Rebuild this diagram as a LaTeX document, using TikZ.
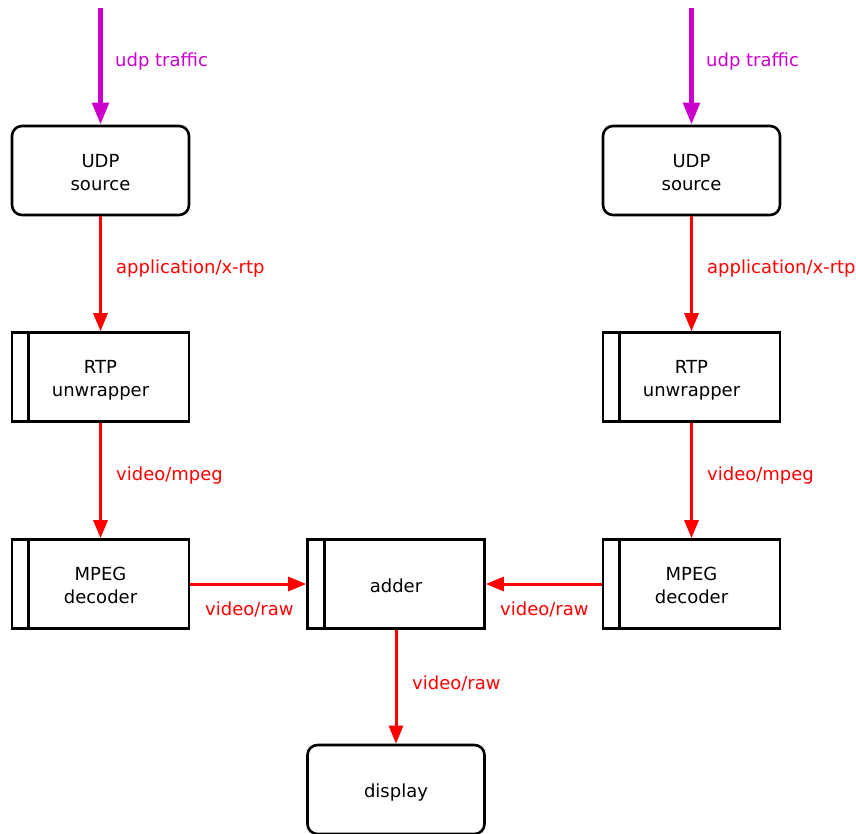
\documentclass[tikz,border=0pt]{standalone}
\usepackage{fontspec}
\setmainfont{DejaVu Sans}
\usetikzlibrary{arrows.meta}
\definecolor{mag}{HTML}{CC00CC}
\definecolor{flow}{HTML}{FF0000}
\newcommand\topst{\rule{0pt}{21pt}}
\newcommand\botst{\rule[-4.3pt]{0pt}{4.3pt}}
\begin{document}
\begin{tikzpicture}[x=1pt,y=-1pt,
  every node/.style={font=\fontsize{18}{23}\selectfont},
  elem/.style={draw=black,line width=2.6pt,minimum width=177pt,minimum height=89pt,inner sep=0pt,align=center},
  srcbox/.style={elem,rounded corners=10pt},
  filt/.style={elem},
  redarrow/.style={draw=flow,line width=3pt,-{Triangle[length=18pt,width=14pt]}},
  magarrow/.style={draw=mag,line width=5pt,-{Triangle[length=22pt,width=16pt]}},
  redlbl/.style={text=flow,anchor=west,inner sep=0pt},
  maglbl/.style={text=mag,anchor=west,inner sep=0pt}
]
\useasboundingbox (0,0) rectangle (856,834);
% left column
\node[srcbox] (udpL) at (100.5,170.5) {\topst UDP\\source\botst};
\node[filt] (rtpL) at (100.5,377) {\topst RTP\\unwrapper\botst};
\node[filt] (mpgL) at (100.5,584) {\topst MPEG\\decoder\botst};
% right column
\node[srcbox] (udpR) at (691.5,170.5) {\topst UDP\\source\botst};
\node[filt] (rtpR) at (691.5,377) {\topst RTP\\unwrapper\botst};
\node[filt] (mpgR) at (691.5,584) {\topst MPEG\\decoder\botst};
% middle
\node[filt] (add) at (396,584) {\topst adder\botst};
\node[srcbox] (disp) at (396,789.5) {\topst display\botst};
% inner lines
\foreach \n in {rtpL,mpgL,rtpR,mpgR,add}{
  \draw[line width=2.6pt] ([xshift=18pt]\n.north west) -- ([xshift=18pt]\n.south west);
}
% top inputs
\coordinate (inL) at (100.5,8);
\coordinate (inR) at (691.5,8);
\draw[magarrow] (inL) -- (udpL.north);
\draw[magarrow] (inR) -- (udpR.north);
\node[maglbl] at (115,62) {udp traffic};
\node[maglbl] at (706,62) {udp traffic};
% flows
\draw[redarrow] (udpL.south) -- (rtpL.north);
\draw[redarrow] (rtpL.south) -- (mpgL.north);
\draw[redarrow] (udpR.south) -- (rtpR.north);
\draw[redarrow] (rtpR.south) -- (mpgR.north);
\draw[redarrow] (mpgL.east) -- (add.west);
\draw[redarrow] (mpgR.west) -- (add.east);
\draw[redarrow] (add.south) -- (disp.north);
\node[redlbl] at (116,269) {application/x-rtp};
\node[redlbl] at (707,269) {application/x-rtp};
\node[redlbl] at (116,476) {video/mpeg};
\node[redlbl] at (707,476) {video/mpeg};
\node[redlbl] at (205,609) {video/raw};
\node[redlbl] at (500,609) {video/raw};
\node[redlbl] at (412,683) {video/raw};
\end{tikzpicture}
\end{document}
